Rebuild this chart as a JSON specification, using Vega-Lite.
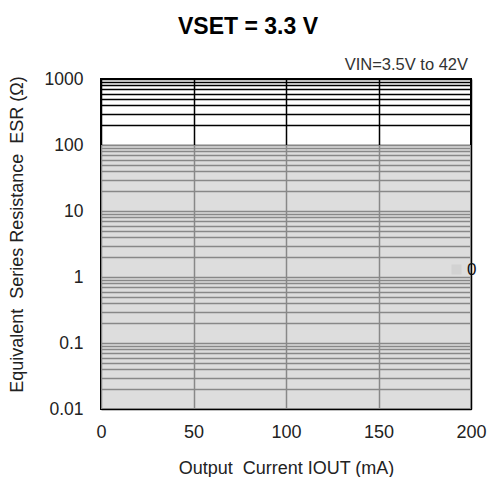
{
  "$schema": "https://vega.github.io/schema/vega-lite/v6.json",
  "autosize": {"type": "none"},
  "padding": {"left": 101, "top": 79, "right": 18, "bottom": 68},
  "width": 370,
  "height": 330,
  "background": "white",
  "config": {
    "font": "Liberation Sans",
    "view": {"stroke": "black", "strokeWidth": 2},
    "axis": {"labelFont": "Liberation Sans", "titleFont": "Liberation Sans", "labelColor": "#222", "titleColor": "#222", "titleFontWeight": "normal"}
  },
  "title": {
    "text": "VSET = 3.3 V",
    "font": "Liberation Sans",
    "fontSize": 23,
    "fontWeight": "bold",
    "color": "black",
    "anchor": "middle",
    "dx": -38,
    "baseline": "alphabetic",
    "offset": 0
  },
  "datasets": {
    "region": [{"s": "0", "x0": 0, "x1": 200, "y0": 0.01, "y1": 100}],
    "note": [{"x": 200, "y": 1000, "label": "VIN=3.5V to 42V"}]
  },
  "layer": [
    {
      "data": {"name": "region"},
      "mark": {"type": "rect", "opacity": 0.667},
      "encoding": {
        "x": {
          "field": "x0", "type": "quantitative",
          "scale": {"domain": [0, 200], "nice": false},
          "axis": {
            "values": [0, 50, 100, 150, 200],
            "grid": true, "gridColor": "black", "gridWidth": 1.5, "gridOpacity": 1,
            "ticks": false, "domain": false, "labelFlush": false,
            "labelFontSize": 18, "labelPadding": 14,
            "title": "Output\u00a0\u00a0Current IOUT (mA)", "titleFontSize": 18, "titlePadding": 18
          }
        },
        "x2": {"field": "x1"},
        "y": {
          "field": "y0", "type": "quantitative",
          "scale": {"type": "log", "domain": [0.01, 1000], "nice": false},
          "axis": {
            "values": [0.01,0.02,0.03,0.04,0.05,0.06,0.07,0.08,0.09,0.1,0.2,0.3,0.4,0.5,0.6,0.7,0.8,0.9,1,2,3,4,5,6,7,8,9,10,20,30,40,50,60,70,80,90,100,200,300,400,500,600,700,800,900,1000],
            "format": "~g",
            "labelExpr": "abs(round(log(datum.value)/LN10) - log(datum.value)/LN10) < 0.000001 ? datum.label : ''",
            "grid": true, "gridColor": "black", "gridWidth": 1.5, "gridOpacity": 1,
            "ticks": false, "domain": false,
            "labelFontSize": 17.5, "labelPadding": 18,
            "title": "Equivalent\u00a0\u00a0Series Resistance\u00a0\u00a0ESR (Ω)", "titleFontSize": 18, "titlePadding": 18, "titleY": 155
          }
        },
        "y2": {"field": "y1"},
        "color": {
          "field": "s", "type": "nominal",
          "scale": {"range": ["#cccccc"]},
          "legend": {
            "title": null, "orient": "none", "legendX": 347, "legendY": 182,
            "symbolType": "square", "symbolSize": 100, "symbolOpacity": 0.667,
            "symbolStrokeWidth": 0, "labelFontSize": 17, "labelColor": "#111", "labelOffset": 2, "padding": 0
          }
        }
      }
    },
    {
      "data": {"name": "note"},
      "mark": {"type": "text", "align": "right", "baseline": "alphabetic", "dy": -9, "dx": -3, "fontSize": 16.5, "font": "Liberation Sans", "color": "#333"},
      "encoding": {
        "x": {"field": "x", "type": "quantitative"},
        "y": {"field": "y", "type": "quantitative"},
        "text": {"field": "label"}
      }
    }
  ]
}
